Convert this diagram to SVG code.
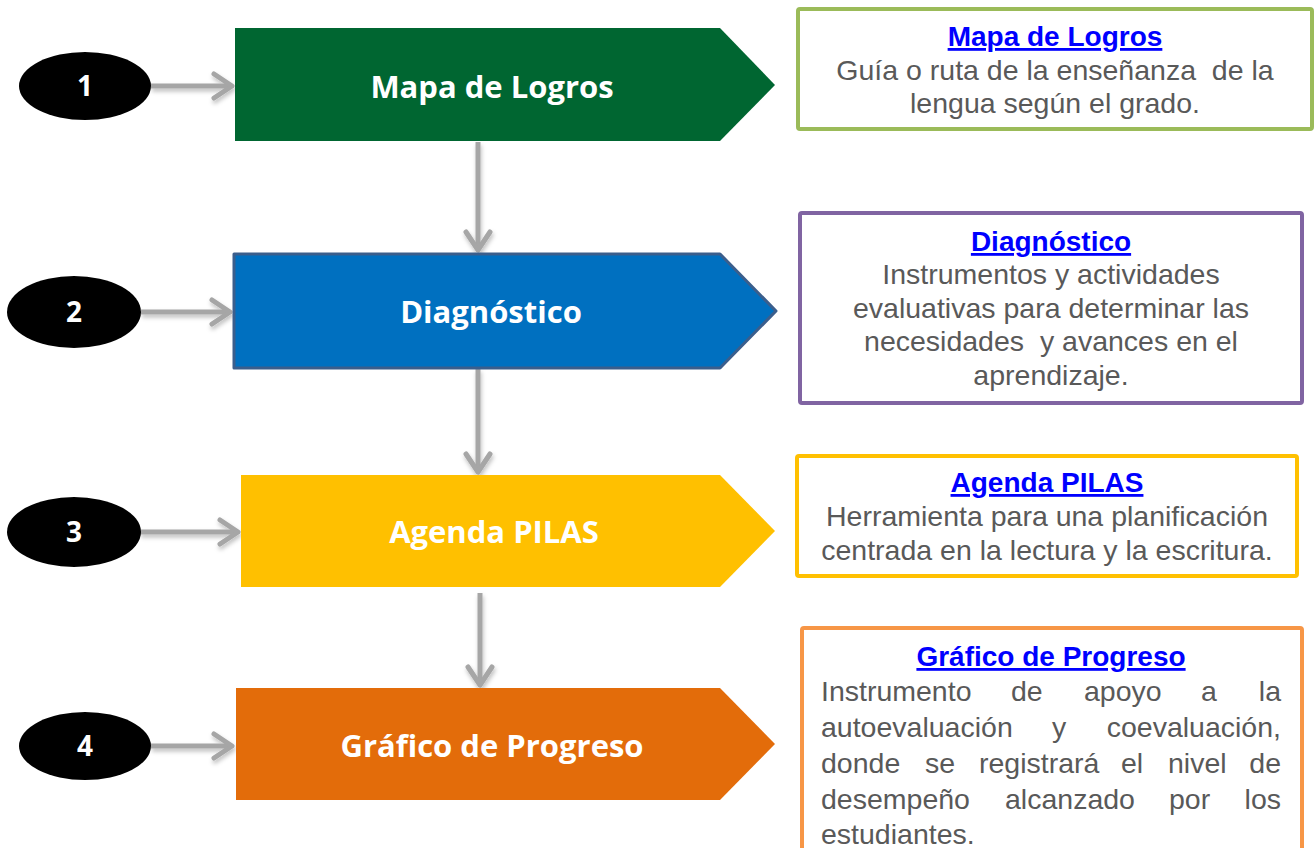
<svg xmlns="http://www.w3.org/2000/svg" width="1314" height="848" viewBox="0 0 1314 848">
<defs>
<marker id="chev" viewBox="-24 -16 28 32" markerWidth="28" markerHeight="32" refX="0" refY="0" orient="auto" markerUnits="userSpaceOnUse">
<path d="M-18,-12 L0,0 L-18,12" fill="none" stroke="#a6a6a6" stroke-width="5" stroke-linecap="round" stroke-linejoin="round"/>
</marker>
<filter id="sh" x="-20%" y="-20%" width="140%" height="160%">
<feDropShadow dx="1" dy="3" stdDeviation="2" flood-color="#000" flood-opacity="0.25"/>
</filter>
</defs>
<style>
.num{font-family:"Open Sans","Liberation Sans",sans-serif;font-weight:bold;font-size:28px;fill:#fff;text-anchor:middle}
.ptxt{font-family:"Open Sans","Liberation Sans",sans-serif;font-weight:bold;font-size:31px;fill:#fff;text-anchor:middle}
.ttl{font-family:"Liberation Sans",Arial,sans-serif;font-weight:bold;font-size:28px;fill:#0000ff;text-decoration:underline;text-anchor:middle}
.body{font-family:"Liberation Sans",Arial,sans-serif;font-size:28.5px;fill:#595959;text-anchor:middle;white-space:pre}
.jb{font-family:"Liberation Sans",Arial,sans-serif;font-size:28.5px;fill:#595959}
.e{text-anchor:end}
.conn{fill:none;stroke:#a6a6a6;stroke-width:5;marker-end:url(#chev)}
.box{fill:#fff;stroke-width:4}
</style>

<g id="connectors" filter="url(#sh)">
<path class="conn" d="M151,86 L232,86"/>
<path class="conn" d="M141,312 L230,312"/>
<path class="conn" d="M140,532 L238,532"/>
<path class="conn" d="M151,746 L232,746"/>
<path class="conn" d="M478,142 L478,250"/>
<path class="conn" d="M478,369 L478,472"/>
<path class="conn" d="M480,593 L480,685"/>
</g>

<g id="n1">
<ellipse cx="85" cy="86" rx="66" ry="34" fill="#000"/>
<text class="num" x="85" y="96">1</text>
</g>
<g id="n2">
<ellipse cx="74" cy="312" rx="67" ry="36" fill="#000"/>
<text class="num" x="74" y="322">2</text>
</g>
<g id="n3">
<ellipse cx="74" cy="532" rx="67" ry="35" fill="#000"/>
<text class="num" x="74" y="542">3</text>
</g>
<g id="n4">
<ellipse cx="85" cy="746" rx="66" ry="34" fill="#000"/>
<text class="num" x="85" y="756">4</text>
</g>

<g id="p1">
<path d="M235,28 L720,28 L775,85 L720,141 L235,141 Z" fill="#006631"/>
<text class="ptxt" x="492" y="98">Mapa de Logros</text>
</g>
<g id="p2">
<path d="M234,254 L720,254 L776,311 L720,368 L234,368 Z" fill="#0070c0" stroke="#3b5e8c" stroke-width="3" stroke-linejoin="round"/>
<text class="ptxt" x="491" y="323">Diagnóstico</text>
</g>
<g id="p3">
<path d="M241,475 L720,475 L775,531 L720,587 L241,587 Z" fill="#ffc000"/>
<text class="ptxt" x="494" y="543">Agenda PILAS</text>
</g>
<g id="p4">
<path d="M236,688 L720,688 L775,744 L720,800 L236,800 Z" fill="#e36c0a"/>
<text class="ptxt" x="492" y="757">Gráfico de Progreso</text>
</g>

<g id="b1">
<rect class="box" x="798" y="9" width="514" height="120" rx="2" stroke="#9bbb59"/>
<text class="ttl" x="1055" y="46">Mapa de Logros</text>
<text class="body" x="1055" y="80">Guía o ruta de la enseñanza  de la</text>
<text class="body" x="1055" y="113">lengua según el grado.</text>
</g>
<g id="b2">
<rect class="box" x="800" y="213" width="502" height="190" rx="2" stroke="#8064a2"/>
<text class="ttl" x="1051" y="251">Diagnóstico</text>
<text class="body" x="1051" y="284">Instrumentos y actividades</text>
<text class="body" x="1051" y="318">evaluativas para determinar las</text>
<text class="body" x="1051" y="351">necesidades  y avances en el</text>
<text class="body" x="1051" y="385">aprendizaje.</text>
</g>
<g id="b3">
<rect class="box" x="797" y="456" width="500" height="120" rx="2" stroke="#ffc000"/>
<text class="ttl" x="1047" y="492">Agenda PILAS</text>
<text class="body" x="1047" y="526">Herramienta para una planificación</text>
<text class="body" x="1047" y="560">centrada en la lectura y la escritura.</text>
</g>
<g id="b4">
<rect class="box" x="802" y="628" width="500" height="240" rx="2" stroke="#f79646"/>
<text class="ttl" x="1051" y="666">Gráfico de Progreso</text>
<text class="jb" y="701"><tspan x="821">Instrumento</tspan><tspan x="1011">de</tspan><tspan x="1084">apoyo</tspan><tspan x="1201">a</tspan><tspan class="e" x="1281">la</tspan></text>
<text class="jb" y="737"><tspan x="821">autoevaluación</tspan><tspan x="1052">y</tspan><tspan class="e" x="1281">coevaluación,</tspan></text>
<text class="jb" y="773"><tspan x="821">donde</tspan><tspan x="925">se</tspan><tspan x="979">registrará</tspan><tspan x="1121">el</tspan><tspan x="1168">nivel</tspan><tspan class="e" x="1281">de</tspan></text>
<text class="jb" y="809"><tspan x="821">desempeño</tspan><tspan x="1005">alcanzado</tspan><tspan x="1169">por</tspan><tspan class="e" x="1281">los</tspan></text>
<text class="jb" y="844"><tspan x="821">estudiantes.</tspan></text>
</g>
</svg>
